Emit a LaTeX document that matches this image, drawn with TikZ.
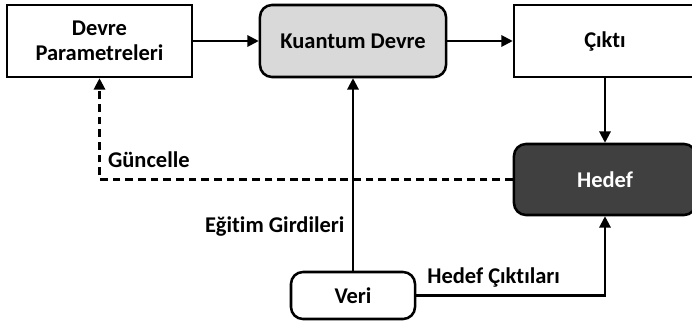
\documentclass[tikz,border=0pt]{standalone}
\usepackage{fontspec}
\setmainfont{Carlito}[Ligatures=NoCommon]
\usetikzlibrary{arrows.meta}

\definecolor{box_gray}{HTML}{D9D9D9}
\definecolor{box_dark}{HTML}{404040}

\begin{document}
\begin{tikzpicture}[
  x=0.025cm, y=-0.025cm,
  font=\fontsize{16}{18}\selectfont\bfseries,
  plain_box/.style={rectangle, draw, line width=1.8pt, fill=white, minimum height=1.8cm, align=center, inner sep=2pt},
  round_box/.style={plain_box, rounded corners=0.3cm},
  arrow_line/.style={line width=1.5pt, -{Triangle[length=8pt, width=8pt]}},
]
\useasboundingbox (0,0) rectangle (692,322);
\node (params) [plain_box, minimum width=4.625cm] at (99.5,41) {Devre\\Parametreleri};
\node (kuantum) [round_box, fill=box_gray, minimum width=4.65cm] at (353,41) {Kuantum Devre};
\node (cikti) [plain_box, minimum width=4.55cm] at (605,41) {Çıktı};
\node (hedef) [round_box, fill=box_dark, text=white, minimum width=4.55cm, minimum height=1.775cm] at (605,179.5) {Hedef};
\node (veri) [round_box, minimum width=3.1cm, minimum height=1.175cm] at (353,295.5) {Veri};
\draw[arrow_line] (params) -- (kuantum);
\draw[arrow_line] (kuantum) -- (cikti);
\draw[arrow_line] (cikti) -- (hedef);
\draw[arrow_line, dash pattern=on 5.5pt off 3.5pt] (hedef.west) -| node[pos=0.6, right, xshift=2pt] {Güncelle} (params.south);
\draw[arrow_line] (veri) -- node[pos=0.23, left, xshift=-2pt] {Eğitim Girdileri} (kuantum);
\draw[arrow_line] (veri.east) -| node[pos=0.205, above, yshift=2pt] {Hedef Çıktıları} (hedef.south);
\end{tikzpicture}
\end{document}
